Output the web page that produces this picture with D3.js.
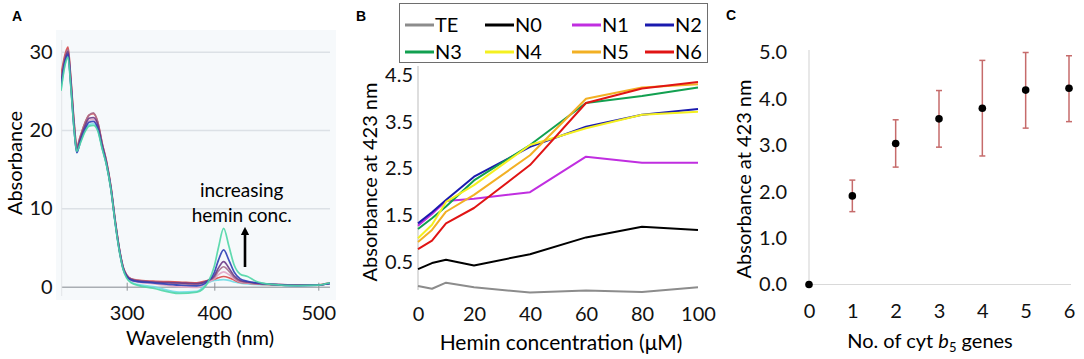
<!DOCTYPE html>
<html>
<head>
<meta charset="utf-8">
<script src="https://cdn.jsdelivr.net/npm/d3@7"></script>
<style>
  body { margin: 0; background: #fff; }
  svg { display: block; font-family: Lato, 'Noto Sans', sans-serif; }
</style>
</head>
<body>
<svg id="chart" width="1084" height="359"></svg>
<script>
// ---- Panel A: UV-vis spectra ----
const wavelengths = [225, 230, 233, 236, 240, 243, 247, 252, 257, 262, 267, 272, 277, 282, 287, 292, 296, 300, 305, 312,
  330, 360, 380, 393, 400, 404, 409, 414, 419, 425, 432, 440, 455, 480, 500, 510, 516]

const specCyan = [25.2, 28.6, 29.4, 25.9, 20.0, 17.2, 18.4, 19.8, 20.7, 20.8, 20.0, 17.7, 15.5, 12.4, 8.0, 4.3, 2.2, 1.2, 0.6, 0.3,
  0.0, -0.7, -0.6, 0.5, 0.8, 0.85, 0.9, 0.8, 0.6, 0.45, 0.35, 0.3, 0.25, 0.15, 0.2, 0.4, 0.5]
const specRed = [27.0, 29.8, 30.6, 27.0, 21.0, 17.9, 19.2, 20.8, 21.9, 22.1, 21.0, 18.3, 16.0, 12.8, 8.4, 4.6, 2.5, 1.5, 1.0, 0.85,
  0.7, 0.6, 0.5, 0.8, 0.95, 1.15, 1.3, 1.15, 0.85, 0.55, 0.45, 0.35, 0.25, 0.2, 0.25, 0.45, 0.55]
const specPink = [25.8, 29.0, 29.8, 26.3, 20.3, 17.4, 18.7, 20.2, 21.2, 21.4, 20.4, 17.9, 15.7, 12.5, 8.1, 4.4, 2.3, 1.3, 0.8, 0.6,
  0.4, 0.0, -0.1, 0.6, 1.0, 1.55, 1.9, 1.55, 1.0, 0.6, 0.5, 0.4, 0.3, 0.2, 0.2, 0.4, 0.5]
const specMauve = [26.5, 29.5, 30.3, 26.8, 20.8, 17.8, 19.1, 20.8, 21.9, 22.2, 21.0, 18.3, 15.9, 12.7, 8.3, 4.6, 2.5, 1.5, 1.0, 0.8,
  0.6, 0.4, 0.3, 0.8, 1.2, 2.0, 2.55, 2.0, 1.2, 0.7, 0.55, 0.4, 0.3, 0.2, 0.2, 0.4, 0.5]
const specPurple = [26.0, 29.2, 30.0, 26.5, 20.5, 17.5, 18.9, 20.4, 21.5, 21.6, 20.7, 18.1, 15.8, 12.6, 8.2, 4.5, 2.4, 1.4, 0.95, 0.75,
  0.6, 0.5, 0.4, 0.8, 1.4, 2.4, 3.2, 2.4, 1.4, 0.8, 0.6, 0.45, 0.3, 0.2, 0.2, 0.4, 0.5]
const specBlue = [25.6, 28.9, 29.7, 26.1, 20.1, 17.1, 18.5, 20.0, 21.0, 21.1, 20.2, 17.8, 15.6, 12.5, 8.1, 4.4, 2.3, 1.3, 0.85, 0.65,
  0.5, 0.2, 0.1, 0.7, 1.8, 3.4, 4.7, 3.4, 1.9, 1.0, 0.7, 0.5, 0.3, 0.15, 0.2, 0.4, 0.5]
const specTeal = [25.0, 28.5, 29.3, 25.8, 20.0, 17.3, 18.3, 19.7, 20.5, 20.6, 19.9, 17.6, 15.5, 12.4, 8.0, 4.3, 2.2, 1.1, 0.5, 0.2,
  -0.2, -0.85, -0.7, 0.6, 2.6, 5.0, 7.45, 5.2, 2.8, 1.6, 1.3, 0.7, 0.3, 0.15, 0.2, 0.45, 0.55]

const spectra = [specCyan, specRed, specPink, specMauve, specPurple, specBlue, specTeal]
const spectraColors = ['#6fdde6', '#d94848', '#e3a6c8', '#a8708e', '#6b3a86', '#2c3fb5', '#4fd6a6']
const aYTicks = [0, 10, 20, 30]
const aXTicks = [300, 400, 500]

// ---- Panel B: absorbance vs hemin ----
const hemin = [0, 5, 10, 20, 40, 60, 80, 100]
const absTE = [-0.02, -0.08, 0.05, -0.05, -0.16, -0.12, -0.15, -0.05]
const absN0 = [0.34, 0.47, 0.54, 0.42, 0.66, 1.02, 1.25, 1.18]
const absN1 = [1.27, 1.52, 1.8, 1.85, 1.99, 2.75, 2.62, 2.62]
const absN2 = [1.32, 1.56, 1.82, 2.32, 2.96, 3.39, 3.65, 3.77]
const absN3 = [1.2, 1.43, 1.68, 2.24, 3.0, 3.9, 4.05, 4.23]
const absN4 = [1.0, 1.29, 1.78, 2.14, 3.0, 3.36, 3.65, 3.71]
const absN5 = [0.92, 1.18, 1.57, 1.93, 2.78, 3.99, 4.23, 4.3]
const absN6 = [0.77, 0.95, 1.32, 1.65, 2.57, 3.9, 4.21, 4.35]
const strainNames = ['TE', 'N0', 'N1', 'N2', 'N3', 'N4', 'N5', 'N6']
const strainValues = [absTE, absN0, absN1, absN2, absN3, absN4, absN5, absN6]
const strainColors = ['#8c8c8c', '#000000', '#c02ee0', '#1a1aae', '#12a050', '#f4f020', '#f2b024', '#e01414']
const bYTicks = [0.5, 1.5, 2.5, 3.5, 4.5]
const bXTicks = [0, 20, 40, 60, 80, 100]

// ---- Panel C: mean absorbance vs gene copies ----
const geneCounts = [0, 1, 2, 3, 4, 5, 6]
const meanAbs = [0, 1.91, 3.04, 3.57, 3.8, 4.19, 4.23]
const errHigh = [0, 2.25, 3.55, 4.18, 4.83, 5.0, 4.93]
const errLow = [0, 1.57, 2.53, 2.96, 2.77, 3.37, 3.51]
const cYTicks = [0, 1, 2, 3, 4, 5]

const svg = d3.select('#chart')
const tickFont = '20px'

function panelLetter(x, y, t) {
  svg.append('text')
    .attr('x', x).attr('y', y)
    .text(t)
    .style('font-family', "'Liberation Sans', Arial, sans-serif")
    .style('font-weight', 'bold')
    .style('font-size', '14px')
}

function styleTicks(a) {
  a.select('.domain').remove()
  a.selectAll('.tick text').attr('fill', '#111').style('font-size', tickFont).style('font-family', 'Lato')
}

function renderPanelA() {
  const g = svg.append('g').attr('class', 'panel-a')
  const xScale = d3.scaleLinear().domain([300, 400, 500]).range([126.7, 214.3, 318.3])
  const yScale = d3.scaleLinear().domain([0, 30]).range([286.7, 51.7])

  g.append('rect')
    .attr('x', 56).attr('y', 30).attr('width', 280).attr('height', 270)
    .attr('fill', '#f6f9fb')

  // gridlines + y labels
  g.append('g')
    .attr('transform', 'translate(61.7,0)')
    .call(d3.axisLeft(yScale).tickValues(aYTicks).tickSize(-268.3).tickPadding(9))
    .call(styleTicks)
    .call(a => {
      a.selectAll('.tick line').attr('stroke', d => (d === 0 ? '#a9aeb3' : '#dce1e6')).attr('stroke-width', 1.5)
    })

  // faint left axis
  g.append('line')
    .attr('x1', 61.7).attr('x2', 61.7).attr('y1', 40).attr('y2', 296)
    .attr('stroke', '#e2e5e8')

  g.append('g')
    .attr('transform', 'translate(0,282.7)')
    .call(d3.axisBottom(xScale).tickValues(aXTicks).tickSize(8).tickPadding(15))
    .call(styleTicks)
    .call(a => {
      a.selectAll('.tick line').attr('stroke', '#8d9296').attr('stroke-width', 1)
    })

  g.append('clipPath').attr('id', 'clipA')
    .append('rect').attr('x', 61).attr('y', 30).attr('width', 269).attr('height', 270)

  const line = d3.line()
    .x((d, i) => xScale(wavelengths[i]))
    .y(d => yScale(d))
    .curve(d3.curveMonotoneX)

  g.append('g')
    .attr('clip-path', 'url(#clipA)')
    .selectAll('path.spectrum')
    .data(spectra)
    .join('path')
    .attr('class', 'spectrum')
    .attr('d', d => line(d))
    .attr('fill', 'none')
    .attr('stroke', (d, i) => spectraColors[i])
    .attr('stroke-width', 1.7)
    .attr('stroke-opacity', 0.9)

  // annotation arrow
  g.append('defs').append('marker')
    .attr('id', 'arrowA')
    .attr('viewBox', '0 0 10 10')
    .attr('refX', 5).attr('refY', 5)
    .attr('markerWidth', 3.2).attr('markerHeight', 3.2)
    .attr('orient', 'auto')
    .append('path').attr('d', 'M0,0 L10,5 L0,10 Z').attr('fill', '#000')

  g.append('line')
    .attr('x1', 245).attr('x2', 245).attr('y1', 267).attr('y2', 231)
    .attr('stroke', '#000').attr('stroke-width', 2.6)
    .attr('marker-end', 'url(#arrowA)')

  g.append('text').attr('x', 241.7).attr('y', 197).attr('text-anchor', 'middle')
    .style('font-size', '19px').text('increasing')
  g.append('text').attr('x', 241.7).attr('y', 222).attr('text-anchor', 'middle')
    .style('font-size', '19px').text('hemin conc.')

  g.append('text').attr('x', 200).attr('y', 345).attr('text-anchor', 'middle')
    .style('font-size', '20px').text('Wavelength (nm)')
  g.append('text')
    .attr('transform', 'translate(22,163) rotate(-90)')
    .attr('text-anchor', 'middle')
    .style('font-size', '20px').text('Absorbance')

  panelLetter(12, 21, 'A')
}

function renderPanelB() {
  const g = svg.append('g').attr('class', 'panel-b')
  const xScale = d3.scaleLinear().domain([0, 100]).range([418, 698])
  const yScale = d3.scaleLinear().domain([0, 4.5]).range([285, 75])

  g.append('line')
    .attr('x1', 418).attr('x2', 418).attr('y1', 66).attr('y2', 290)
    .attr('stroke', '#c8c8c8').attr('stroke-width', 1.2)

  g.append('g')
    .attr('transform', 'translate(413,0)')
    .call(d3.axisLeft(yScale).tickValues(bYTicks).tickSize(0).tickPadding(0).tickFormat(d3.format('.1f')))
    .call(styleTicks)

  g.append('g')
    .attr('transform', 'translate(0,303)')
    .call(d3.axisBottom(xScale).tickValues(bXTicks).tickSize(0).tickPadding(4).tickFormat(d3.format('d')))
    .call(styleTicks)

  const line = d3.line()
    .x((d, i) => xScale(hemin[i]))
    .y(d => yScale(d))

  g.selectAll('path.strain')
    .data(strainValues)
    .join('path')
    .attr('class', 'strain')
    .attr('d', d => line(d))
    .attr('fill', 'none')
    .attr('stroke', (d, i) => strainColors[i])
    .attr('stroke-width', 2)
    .attr('stroke-linejoin', 'round')

  // legend
  g.append('rect')
    .attr('x', 399.5).attr('y', 3.5).attr('width', 308).attr('height', 59)
    .attr('fill', '#fff').attr('stroke', '#6e6e6e').attr('stroke-width', 1)

  const legendCols = d3.scaleOrdinal().domain([0, 1, 2, 3]).range([405, 485, 572, 645])
  const legendRows = d3.scaleOrdinal().domain([0, 1]).range([25, 52])
  const items = g.selectAll('g.legend-item')
    .data(strainNames)
    .join('g')
    .attr('class', 'legend-item')
    .attr('transform', (d, i) => `translate(${legendCols(i % 4)}, ${legendRows(Math.floor(i / 4))})`)
  items.append('line')
    .attr('x1', 0).attr('x2', 29).attr('y1', 0).attr('y2', 0)
    .attr('stroke', (d, i) => strainColors[i]).attr('stroke-width', 3)
  items.append('text')
    .attr('x', 30).attr('y', 7)
    .style('font-size', tickFont)
    .text(d => d)

  g.append('text').attr('x', 561).attr('y', 350).attr('text-anchor', 'middle')
    .style('font-size', '21px').text('Hemin concentration (\u03bcM)')
  g.append('text')
    .attr('transform', 'translate(377,182) rotate(-90)')
    .attr('text-anchor', 'middle')
    .style('font-size', '20px').text('Absorbance at 423 nm')

  panelLetter(356, 21, 'B')
}

function renderPanelC() {
  const g = svg.append('g').attr('class', 'panel-c')
  const xScale = d3.scaleLinear().domain([0, 6]).range([809, 1069])
  const yScale = d3.scaleLinear().domain([0, 5]).range([284.5, 52.5])

  g.append('line')
    .attr('x1', 809).attr('x2', 809).attr('y1', 50).attr('y2', 284.5)
    .attr('stroke', '#d9d9d9').attr('stroke-width', 1.2)
  g.append('line')
    .attr('x1', 809).attr('x2', 1071).attr('y1', 284.5).attr('y2', 284.5)
    .attr('stroke', '#d9d9d9').attr('stroke-width', 1.2)

  g.append('g')
    .attr('transform', 'translate(787,0)')
    .call(d3.axisLeft(yScale).tickValues(cYTicks).tickSize(0).tickPadding(0).tickFormat(d3.format('.1f')))
    .call(styleTicks)

  g.append('g')
    .attr('transform', 'translate(0,300)')
    .call(d3.axisBottom(xScale).tickValues(geneCounts).tickSize(0).tickPadding(4).tickFormat(d3.format('d')))
    .call(styleTicks)

  const bars = g.selectAll('g.err')
    .data(geneCounts.filter(n => errHigh[n] > errLow[n]))
    .join('g')
    .attr('class', 'err')
    .attr('stroke', '#c66b6b')
    .attr('stroke-width', 1.5)
  bars.append('line')
    .attr('x1', n => xScale(n)).attr('x2', n => xScale(n))
    .attr('y1', n => yScale(errHigh[n])).attr('y2', n => yScale(errLow[n]))
  bars.append('line')
    .attr('x1', n => xScale(n) - 3).attr('x2', n => xScale(n) + 3)
    .attr('y1', n => yScale(errHigh[n])).attr('y2', n => yScale(errHigh[n]))
  bars.append('line')
    .attr('x1', n => xScale(n) - 3).attr('x2', n => xScale(n) + 3)
    .attr('y1', n => yScale(errLow[n])).attr('y2', n => yScale(errLow[n]))

  g.selectAll('circle.mean')
    .data(geneCounts)
    .join('circle')
    .attr('class', 'mean')
    .attr('cx', n => xScale(n))
    .attr('cy', n => yScale(meanAbs[n]))
    .attr('r', 3.8)
    .attr('fill', '#000')

  const title = g.append('text').attr('x', 930).attr('y', 348).attr('text-anchor', 'middle')
    .style('font-size', '20px')
  title.append('tspan').text('No. of cyt ')
  title.append('tspan').style('font-style', 'italic').text('b')
  title.append('tspan').attr('dy', 4).style('font-size', '13px').text('5')
  title.append('tspan').attr('dy', -4).text(' genes')

  g.append('text')
    .attr('transform', 'translate(751,179) rotate(-90)')
    .attr('text-anchor', 'middle')
    .style('font-size', '20px').text('Absorbance at 423 nm')

  panelLetter(726, 20, 'C')
}

renderPanelA()
renderPanelB()
renderPanelC()
</script>
</body>
</html>
